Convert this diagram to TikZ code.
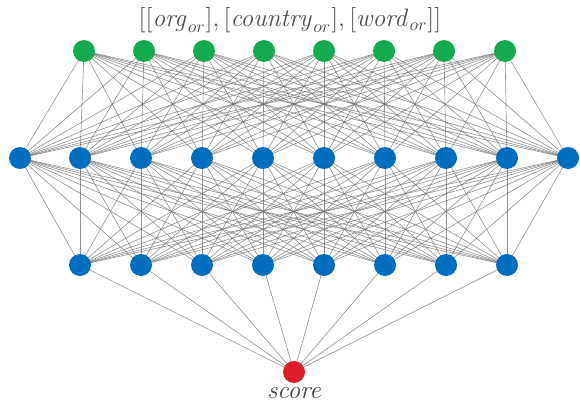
\documentclass[tikz,border=0pt]{standalone}
\usepackage{tikz}
\usepackage{xcolor}
\usetikzlibrary{positioning,backgrounds}
\definecolor{netgreen}{RGB}{20,170,80}
\definecolor{netblue}{RGB}{0,110,190}
\definecolor{netred}{RGB}{220,30,40}
\definecolor{wiregray}{RGB}{110,110,110}

\begin{document}
\begin{tikzpicture}[x=0.02cm, y=-0.02cm,
    neuron/.style={circle, minimum size=0.44cm, inner sep=0pt},
    wire/.style={draw=wiregray, line width=0.35pt, opacity=0.75}]
    \useasboundingbox (0,0) rectangle (580,402);
    % input, two hidden layers and the output
    \foreach \i/\x in {1/84,2/144,3/204,4/264,5/324,6/384,7/444,8/505}
        \node[neuron, fill=netgreen] (in\i) at (\x,51) {};
    \foreach \i/\x in {1/20,2/80,3/141,4/202,5/263,6/324,7/385,8/446,9/507,10/568}
        \node[neuron, fill=netblue] (ha\i) at (\x,158) {};
    \foreach \i/\x in {1/80,2/141,3/202,4/263,5/324,6/385,7/446,8/507}
        \node[neuron, fill=netblue] (hb\i) at (\x,265) {};
    \node[neuron, fill=netred] (out) at (294,372) {};
    \node[below=-1pt of out, font=\itshape\Large, text=black!75] (outlabel) {score};
    \node[font=\Large, text=black!70] (inlabel) at (290,20)
        {$[[\mathit{org}_{or}],[\mathit{country}_{or}],[\mathit{word}_{or}]]$};
    % fully connected wires
    \begin{scope}[on background layer]
        \foreach \i in {1,...,8}
            \foreach \j in {1,...,10}
                \draw[wire] (in\i.center) -- (ha\j.center);
        \foreach \j in {1,...,10}
            \foreach \k in {1,...,8}
                \draw[wire] (ha\j.center) -- (hb\k.center);
        \foreach \k in {1,...,8}
            \draw[wire] (hb\k.center) -- (out.center);
    \end{scope}
\end{tikzpicture}
\end{document}
